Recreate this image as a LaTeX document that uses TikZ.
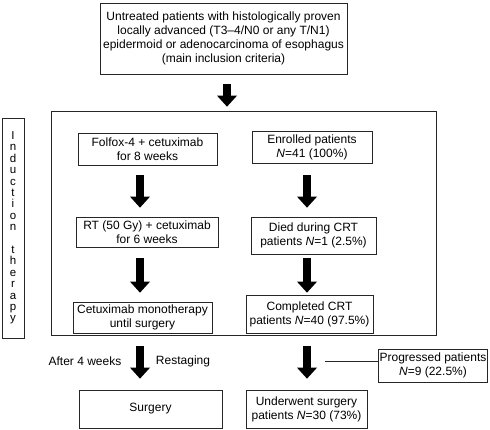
\documentclass[tikz,border=0pt]{standalone}
\usepackage{fontspec}
\setmainfont{Liberation Sans}
\usetikzlibrary{arrows.meta}

\begin{document}
\begin{tikzpicture}[
    x=1pt, y=-1pt,
    font=\fontsize{12}{14}\selectfont,
    box/.style={draw=black!85, line width=0.7pt, align=center, inner sep=1pt},
    fat/.style={line width=7.5pt, -{Triangle[width=20pt,length=11pt,line width=0pt]}, shorten <=10pt, shorten >=9pt},
    link/.style={draw=black!85, line width=0.7pt}
]
\useasboundingbox (0,0) rectangle (490,430);

% columns of the thick arrows
\coordinate (colL) at (140,0);
\coordinate (colR) at (307,0);
\coordinate (colT) at (227,0);

\node[box, minimum width=247pt, minimum height=71pt] (crit) at (223.5,38.5)
    {Untreated patients with histologically proven\\
     locally advanced (T3--4/N0 or any T/N1)\\
     epidermoid or adenocarcinoma of esophagus\\
     (main inclusion criteria)};

\node[box, minimum width=385pt, minimum height=224pt] (frame) at (243.5,223) {};
\node[box, minimum width=22pt, minimum height=220pt,
      font=\fontsize{11.5}{11.4}\selectfont] (induct) at (13,228)
    {I\\n\\d\\u\\c\\t\\i\\o\\n\\[11.4pt]t\\h\\e\\r\\a\\p\\y};

\node[box, minimum width=139pt, minimum height=32pt] (folfox) at (147.5,149)
    {Folfox-4 + cetuximab\\for 8 weeks};
\node[box, minimum width=142pt, minimum height=30pt] (rt) at (147,232)
    {RT (50 Gy) + cetuximab\\for 6 weeks};
\node[box, minimum width=139pt, minimum height=31pt] (mono) at (142.5,317.5)
    {Cetuximab monotherapy\\until surgery};

\node[box, minimum width=120pt, minimum height=32pt] (enrol) at (312,147)
    {Enrolled patients\\\textit{N}=41 (100\%)};
\node[box, minimum width=125pt, minimum height=37pt] (died) at (313.5,235.5)
    {Died during CRT\\patients \textit{N}=1 (2.5\%)};
\node[box, minimum width=127pt, minimum height=38pt] (done) at (309.5,314)
    {Completed CRT\\patients \textit{N}=40 (97.5\%)};

\node[box, minimum width=143pt, minimum height=38pt] (surg) at (150.5,409) {Surgery};
\node[box, minimum width=121pt, minimum height=38pt] (under) at (306.5,409)
    {Underwent surgery\\patients \textit{N}=30 (73\%)};
\node[box, minimum width=108pt, minimum height=33pt] (prog) at (433,365.5)
    {Progressed patients\\\textit{N}=9 (22.5\%)};

\node (after) at (85,361) {After 4 weeks};
\node (restage) at (183,361) {Restaging};

\draw[fat, shorten >=4pt] (crit.south -| colT) -- (frame.north -| colT);

\draw[fat] (folfox.south -| colL) -- (rt.north -| colL);
\draw[fat, shorten <=11pt] (rt.south -| colL) -- (mono.north -| colL);
\draw[fat, shorten <=13pt, shorten >=11pt] (mono.south -| colL) -- (surg.north -| colL);

\draw[fat, shorten <=12pt] (enrol.south -| colR) -- (died.north -| colR);
\draw[fat, shorten <=4pt, shorten >=2pt] (died.south -| colR) -- (done.north -| colR);
\draw[fat, shorten <=13pt, shorten >=11pt] (done.south -| colR) -- (under.north -| colR);

\coordinate (cut) at (325,361);
\draw[link] (cut) -- (cut -| prog.west);

\end{tikzpicture}
\end{document}
